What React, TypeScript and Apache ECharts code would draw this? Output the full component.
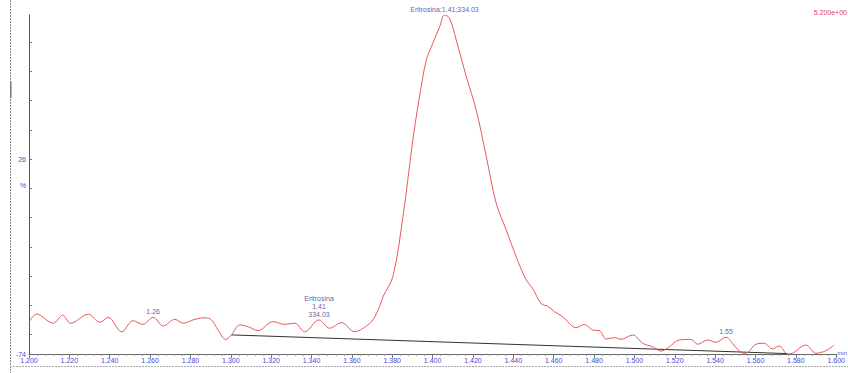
import React, { useEffect, useRef } from "react";
import * as echarts from "echarts";

// Chromatogram trace: retention time (min) vs relative intensity (%)
const retentionTimes = [
  1.2, 1.2038, 1.212, 1.2167, 1.2206, 1.2294, 1.2351, 1.2393, 1.2459, 1.2516,
  1.2563, 1.2615, 1.2665, 1.2723, 1.2764, 1.2813, 1.2871, 1.2904, 1.2937, 1.2975,
  1.3003, 1.3044, 1.3086, 1.3135, 1.3209, 1.3267, 1.3317, 1.3366, 1.3437, 1.349,
  1.3548, 1.3614, 1.3672, 1.3704, 1.3737, 1.3754, 1.3803, 1.3853, 1.3902, 1.3935,
  1.3969, 1.4001, 1.4035, 1.4059, 1.4084, 1.4117, 1.4167, 1.4216, 1.4266, 1.4315,
  1.4365, 1.4414, 1.4464, 1.4497, 1.4538, 1.4571, 1.4604, 1.4645, 1.4711, 1.4752,
  1.4793, 1.4826, 1.486, 1.4901, 1.4934, 1.4991, 1.5041, 1.509, 1.5132, 1.5173,
  1.5222, 1.528, 1.5313, 1.5363, 1.5404, 1.5454, 1.5486, 1.5519, 1.5544, 1.5561,
  1.5602, 1.5643, 1.5684, 1.5717, 1.5759, 1.5783, 1.585, 1.5899, 1.5949, 1.599,
];
const intensities = [
  -57.7, -53.5, -58.2, -54.1, -58.2, -53.6, -57.7, -55.2, -62.6, -56.9,
  -58.8, -55.2, -59.6, -56.2, -58.2, -56.5, -55.4, -56.5, -61.7, -66.5,
  -64.2, -59.1, -60.0, -62.0, -57.4, -58.8, -58.2, -62.6, -56.5, -60.8,
  -57.9, -62.6, -59.6, -56.5, -49.7, -44.6, -34.3, -3.5, 35.8, 58.1,
  76.9, 85.5, 94.0, 100, 98.3, 87.2, 68.3, 51.2, 27.3, 3.4,
  -10.4, -24.1, -36.0, -40.6, -48.2, -49.5, -52.3, -54.9, -60.5, -58.8,
  -61.7, -62.0, -66.3, -65.6, -66.5, -64.2, -68.5, -70.3, -72.5, -70.3,
  -66.8, -66.5, -69.0, -66.8, -68.0, -65.4, -68.5, -72.5, -73.6, -73.3,
  -69.0, -68.5, -71.4, -69.9, -74.0, -73.6, -69.4, -73.6, -72.3, -69.4,
];

// Integration baseline of the peak
const baselineTimes = [1.3003, 1.576];
const baselineValues = [-64.2, -73.8];

// Peak identification
const peakName = "Eritrosina";
const peakRT = 1.41;
const peakArea = 334.03;
const apexTime = 1.4059;
const peakTagTime = 1.3437;
const minorPeakTimes = [1.2615, 1.5454];

// Axis settings
const yMin = -74;
const yMax = 100;
const yLabelValues = [-74, 26];
const yTickValues = [-64, -49, -34, -19, -4, 11, 26, 41, 56, 71, 86];
const xMin = 1.2;
const xMax = 1.6;
const xStep = 0.02;
const scaleText = "5.200e+00";

const BLUE = "#4a4ad2";
const NAVY = "#34348c";
const FONT = "'Liberation Sans', Arial, sans-serif";

export default function App() {
  const ref = useRef<HTMLDivElement>(null);

  useEffect(() => {
    if (!ref.current) return;
    const chart = echarts.init(ref.current, null, { renderer: "svg" });

    // Annotated points of the trace, taken from the same arrays
    const annotated: any[] = [];
    retentionTimes.forEach((t, i) => {
      const value = [t, intensities[i]];
      if (t === apexTime) {
        annotated.push({
          value,
          label: {
            distance: 2,
            formatter: `${peakName};${peakRT.toFixed(2)};${peakArea.toFixed(2)}`,
          },
        });
      } else if (t === peakTagTime) {
        annotated.push({
          value,
          label: {
            distance: 1,
            lineHeight: 8,
            formatter: `${peakName}\n${peakRT.toFixed(2)}\n${peakArea.toFixed(2)}`,
          },
        });
      } else if (minorPeakTimes.includes(t)) {
        annotated.push({
          value,
          label: { distance: 2, formatter: (p: any) => p.value[0].toFixed(2) },
        });
      }
    });

    chart.setOption({
      animation: false,
      backgroundColor: "#ffffff",
      grid: { left: 29, right: 11, top: 15, bottom: 19, containLabel: false },
      xAxis: {
        type: "value",
        min: xMin,
        max: xMax,
        interval: xStep,
        axisLine: { show: true, onZero: false, lineStyle: { color: "#666666", width: 1 } },
        axisTick: { show: true, length: 4, lineStyle: { color: "#777777" } },
        minorTick: { show: true, splitNumber: 5, length: 2, lineStyle: { color: "#999999" } },
        splitLine: { show: false },
        axisLabel: {
          fontSize: 7,
          color: BLUE,
          fontFamily: FONT,
          margin: 3,
          showMinLabel: true,
          showMaxLabel: true,
          formatter: (v: number) => v.toFixed(3),
        },
      },
      yAxis: {
        type: "value",
        min: yMin,
        max: yMax,
        axisLine: { show: true, onZero: false, lineStyle: { color: "#555555", width: 1 } },
        axisTick: {
          show: true,
          inside: true,
          length: 3,
          customValues: yTickValues,
          lineStyle: { color: "#777777" },
        },
        axisLabel: {
          customValues: yLabelValues,
          fontSize: 7,
          color: BLUE,
          fontFamily: FONT,
          margin: 3,
        },
        splitLine: { show: false },
      },
      series: [
        {
          type: "line",
          data: retentionTimes.map((t, i) => [t, intensities[i]]),
          smooth: 0.35,
          showSymbol: false,
          symbol: "none",
          lineStyle: { color: "#e8565a", width: 1 },
          z: 3,
        },
        {
          type: "line",
          data: baselineTimes.map((t, i) => [t, baselineValues[i]]),
          showSymbol: false,
          symbol: "none",
          lineStyle: { color: "#333333", width: 1 },
          z: 2,
        },
        {
          type: "scatter",
          data: annotated,
          symbolSize: 0,
          itemStyle: { color: "rgba(0,0,0,0)" },
          label: {
            show: true,
            position: "top",
            fontSize: 7,
            color: NAVY,
            fontFamily: FONT,
          },
          silent: true,
          z: 4,
        },
      ],
      graphic: [
        {
          type: "line",
          shape: { x1: 10.5, y1: 0, x2: 10.5, y2: 373 },
          style: { stroke: "#888888", lineWidth: 1, lineDash: [2, 1] },
        },
        {
          type: "rect",
          shape: { x: 10, y: 81, width: 1.5, height: 17 },
          style: { fill: "#777777" },
        },
        {
          type: "line",
          shape: { x1: 10, y1: 366.5, x2: 848, y2: 366.5 },
          style: { stroke: "#aaaaaa", lineWidth: 1, lineDash: [2, 1] },
        },
        {
          type: "text",
          x: 20,
          y: 185,
          style: { text: "%", fontSize: 7, fill: BLUE, fontFamily: FONT, verticalAlign: "middle" },
        },
        {
          type: "text",
          x: 847,
          y: 12,
          style: {
            text: scaleText,
            fontSize: 7,
            fill: "#e0405a",
            fontFamily: FONT,
            align: "right",
            verticalAlign: "middle",
          },
        },
        {
          type: "text",
          x: 847,
          y: 353,
          style: {
            text: "min",
            fontSize: 6,
            fill: BLUE,
            fontFamily: FONT,
            align: "right",
            verticalAlign: "middle",
          },
        },
      ],
    });

    return () => chart.dispose();
  }, []);

  return (
    <div
      ref={ref}
      style={{ position: "fixed", left: 0, top: 0, width: 848, height: 373, overflow: "hidden" }}
    />
  );
}
